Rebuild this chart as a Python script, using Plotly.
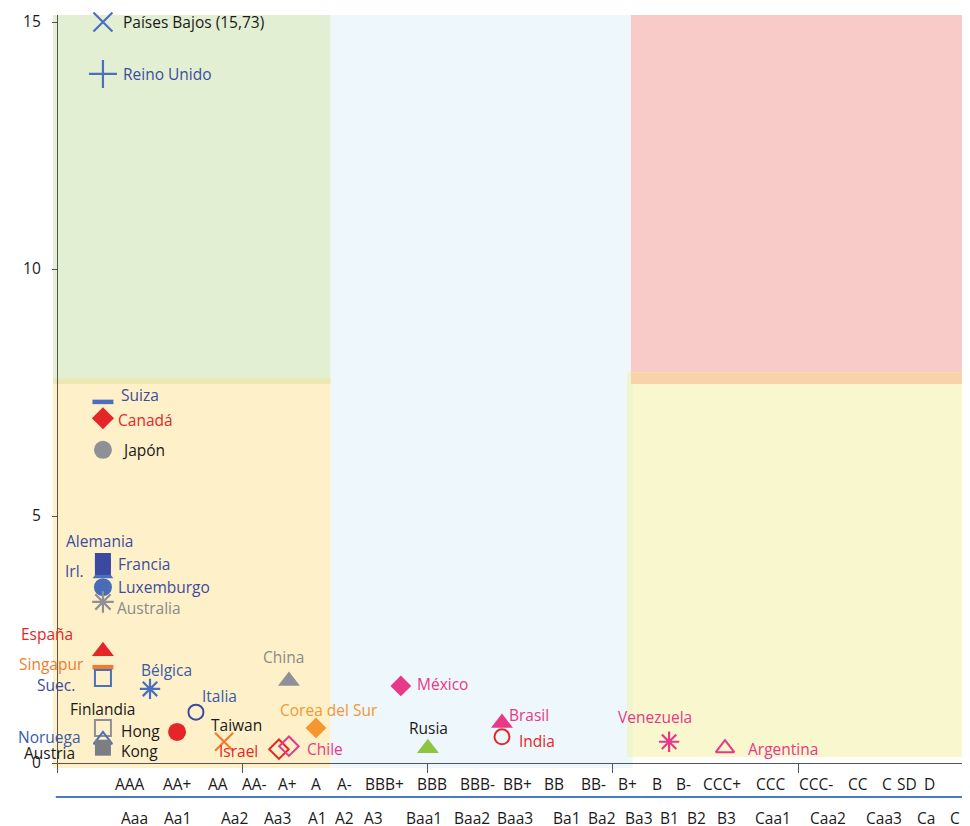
import plotly.graph_objects as go

# ---------------- data ----------------
countries = ["Países Bajos", "Reino Unido", "Suiza", "Canadá", "Japón",
             "Irl.", "Alemania", "Francia", "Luxemburgo", "Australia",
             "España", "Singapur", "Suec.", "Bélgica", "Finlandia",
             "Noruega", "Austria", "Hong Kong", "Italia", "Taiwan",
             "Israel", "Chile", "China", "Corea del Sur", "México",
             "Rusia", "Brasil", "India", "Venezuela", "Argentina"]
rating_x = [1.24, 1.24, 1.24, 1.24, 1.24,
            1.24, 1.24, 1.24, 1.24, 1.24,
            1.24, 1.24, 1.24, 2.51, 1.24,
            1.24, 1.24, 3.24, 3.75, 4.51,
            5.99, 6.26, 6.26, 6.99, 9.28,
            10.01, 12.01, 12.01, 16.52, 18.03]
value_y = [15.73, 13.95, 7.31, 6.98, 6.34,
           3.83, 4.09, 3.97, 3.56, 3.26,
           2.26, 1.94, 1.72, 1.50, 0.71,
           0.47, 0.31, 0.63, 1.03, 0.43,
           0.28, 0.34, 1.66, 0.71, 1.56,
           0.30, 0.81, 0.53, 0.43, 0.30]
y_cap = 15

sp_labels = ["AAA", "AA+", "AA", "AA-", "A+", "A", "A-", "BBB+", "BBB", "BBB-",
             "BB+", "BB", "BB-", "B+", "B", "B-", "CCC+", "CCC", "CCC-", "CC",
             "C", "SD", "D"]
sp_pos = [1.97, 3.24, 4.35, 5.32, 6.21, 6.99, 7.75, 8.85, 10.12, 11.36,
          12.44, 13.41, 14.49, 15.41, 16.19, 16.90, 17.95, 19.27, 20.49, 21.62,
          22.40, 22.94, 23.54]
moodys_labels = ["Aaa", "Aa1", "Aa2", "Aa3", "A1", "A2", "A3", "Baa1", "Baa2",
                 "Baa3", "Ba1", "Ba2", "Ba3", "B1", "B2", "B3", "Caa1", "Caa2",
                 "Caa3", "Ca", "C"]
moodys_pos = [2.08, 3.24, 4.78, 5.94, 7.02, 7.75, 8.53, 9.91, 11.20,
              12.36, 13.77, 14.71, 15.71, 16.52, 17.27, 18.08, 19.33, 20.81,
              22.32, 23.45, 24.24]

y_ticks = [0, 5, 10, 15]
x_ticks = [0, 5, 10, 15, 20]

# background zones: (x0, x1, y0, y1, colour)
zones = [
    (7.38, 15.54, -0.11, 15.15, "#eef7fb"),
    (-0.11, 7.38, 7.67, 15.15, "#e3efd2"),
    (-0.11, 7.38, -0.11, 7.79, "#fef0c9"),
    (-0.11, 7.38, 7.67, 7.79, "#ece7b3"),
    (15.49, 24.7, 7.67, 15.15, "#f9cbc8"),
    (15.38, 24.7, 0.12, 7.91, "#f9f7cd"),
    (15.38, 15.54, 0.12, 7.91, "#eef5d0"),
    (15.49, 24.7, 7.67, 7.91, "#f7d3a7"),
]

# ---------------- styles ----------------
BLUE = "#4a6fbe"
NAVY = "#3a4aa0"
TBLUE = "#3b4c9e"
RED = "#e52628"
GRAY = "#8e9096"
DGRAY = "#7c7e84"
ORANGE = "#f07d2e"
ORANGE2 = "#f5962f"
PINK = "#e8388a"
GREEN = "#8cc63f"
BLACK = "#1a1a1a"
TGRAY = "#8a8a8a"

symbols = ["x-thin", "cross-thin", "line-ew", "diamond", "circle",
           "triangle-up", "square", "square", "circle", "asterisk",
           "triangle-up", "line-ew", "square-open", "asterisk", "square-open",
           "triangle-up-open", "square", "circle", "circle-open", "x-thin",
           "diamond-open", "diamond-open", "triangle-up", "diamond", "diamond",
           "triangle-up", "triangle-up", "circle-open", "asterisk", "triangle-up-open"]
mcolors = [BLUE, BLUE, BLUE, RED, GRAY,
           BLUE, NAVY, NAVY, "#4a6cb8", GRAY,
           RED, ORANGE, BLUE, BLUE, GRAY,
           BLUE, DGRAY, RED, TBLUE, ORANGE,
           RED, PINK, GRAY, ORANGE2, PINK,
           GREEN, PINK, RED, PINK, PINK]
msizes = [19, 20, 15, 17, 18,
          18, 16, 16, 18, 18,
          19, 15, 16, 17, 16,
          16, 16, 18, 15, 18,
          15, 15, 19, 16, 16,
          19, 19, 15, 17, 16]
mline = [2.2, 2.2, 4.5, 0, 0,
         0, 0, 0, 0, 2.2,
         0, 4.5, 2, 2.2, 2,
         2, 0, 0, 2, 2.2,
         2, 2, 0, 0, 0,
         0, 0, 2, 2.2, 2]

label_texts = ["Países Bajos (15,73)", "Reino Unido", "Suiza", "Canadá", "Japón",
               "Irl.", "Alemania", "Francia", "Luxemburgo", "Australia",
               "España", "Singapur", "Suec.", "Bélgica", "Finlandia",
               "Noruega", "Austria", "Hong<br>Kong", "Italia", "Taiwan",
               "Israel", "Chile", "China", "Corea del Sur", "México",
               "Rusia", "Brasil", "India", "Venezuela", "Argentina"]
lcolors = [BLACK, TBLUE, TBLUE, RED, BLACK,
           TBLUE, TBLUE, TBLUE, TBLUE, TGRAY,
           RED, ORANGE, TBLUE, "#3b5aa8", BLACK,
           "#3b5aa8", BLACK, BLACK, "#3b5aa8", BLACK,
           RED, PINK, TGRAY, ORANGE2, PINK,
           BLACK, PINK, RED, PINK, PINK]
# (xanchor, xshift, yshift)
loffs = [("left", 18, 0), ("left", 18, 0), ("left", 16, 7), ("left", 13, -2), ("left", 17, 0),
         ("right", -17, 3), ("center", -3, 20), ("left", 13, 3), ("left", 13, 0), ("left", 12, -6),
         ("right", -28, 17), ("right", -17, 3), ("right", -26, -7), ("left", -11, 19), ("center", 0, 19),
         ("right", -20, 3), ("right", -26, -5), ("right", -15, -9), ("left", 4, 16), ("left", -15, 17),
         ("right", -19, -2), ("left", 16, -3), ("center", -5, 24), ("center", 13, 18), ("left", 14, 2),
         ("center", 1, 20), ("left", 5, 8), ("left", 15, -4), ("center", -14, 25), ("left", 21, -1)]

FONT = "Open Sans, Noto Sans, sans-serif"
FS = 15.5

shown_y = [min(v, y_cap) for v in value_y]

fig = go.Figure()
fig.add_trace(go.Scatter(
    x=rating_x, y=shown_y, mode="markers",
    marker=dict(symbol=symbols, color=mcolors, size=msizes, opacity=1,
                line=dict(color=mcolors, width=mline)),
    hovertext=countries, hoverinfo="text", showlegend=False, cliponaxis=False))

shapes = []
for x0, x1, y0, y1, c in zones:
    shapes.append(dict(type="rect", xref="x", yref="y", x0=x0, x1=x1, y0=y0, y1=y1,
                       fillcolor=c, line=dict(width=0), layer="below"))
# blue separator between the two rating scales
shapes.append(dict(type="line", xref="paper", yref="paper", x0=0.003, x1=1,
                   y0=-0.0385, y1=-0.0385, line=dict(color="#4a7ac0", width=2)))

annotations = []
for xi, yi, t, c, (xa, xs, ys) in zip(rating_x, shown_y, label_texts, lcolors, loffs):
    annotations.append(dict(x=xi, y=yi, xref="x", yref="y", text=t, showarrow=False,
                            xanchor=xa, yanchor="middle", xshift=xs, yshift=ys,
                            align="left", font=dict(family=FONT, size=FS, color=c)))
for t, p in zip(sp_labels, sp_pos):
    annotations.append(dict(x=p, y=-0.0212, xref="x", yref="paper", text=t, showarrow=False,
                            xanchor="center", yanchor="middle",
                            font=dict(family=FONT, size=FS, color=BLACK)))
for t, p in zip(moodys_labels, moodys_pos):
    annotations.append(dict(x=p, y=-0.0664, xref="x", yref="paper", text=t, showarrow=False,
                            xanchor="center", yanchor="middle", height=16, valign="middle",
                            font=dict(family=FONT, size=FS, color=BLACK)))

# page body has an 8px margin: figure is sized/offset to compensate
fig.update_layout(
    width=962, height=818,
    margin=dict(l=45, r=0, t=7, b=58),
    paper_bgcolor="white", plot_bgcolor="white",
    shapes=shapes, annotations=annotations,
    font=dict(family=FONT, size=FS, color=BLACK),
    xaxis=dict(range=[-0.108, 24.642], showgrid=False, zeroline=False,
               anchor="free", position=0.0066,
               showline=True, linecolor="#555555", linewidth=1.3,
               ticks="outside", ticklen=9, tickcolor="#555555", tickwidth=1.3,
               tickvals=x_ticks, showticklabels=False),
    yaxis=dict(range=[-0.101, 15.142], showgrid=False, zeroline=False,
               anchor="free", position=0.0044,
               showline=True, linecolor="#555555", linewidth=1.3,
               ticks="outside", ticklen=5, tickcolor="#555555", tickwidth=1.3,
               tickvals=y_ticks, ticklabelstandoff=8,
               tickfont=dict(family=FONT, size=FS, color=BLACK)),
)

fig.write_html("out.html")
